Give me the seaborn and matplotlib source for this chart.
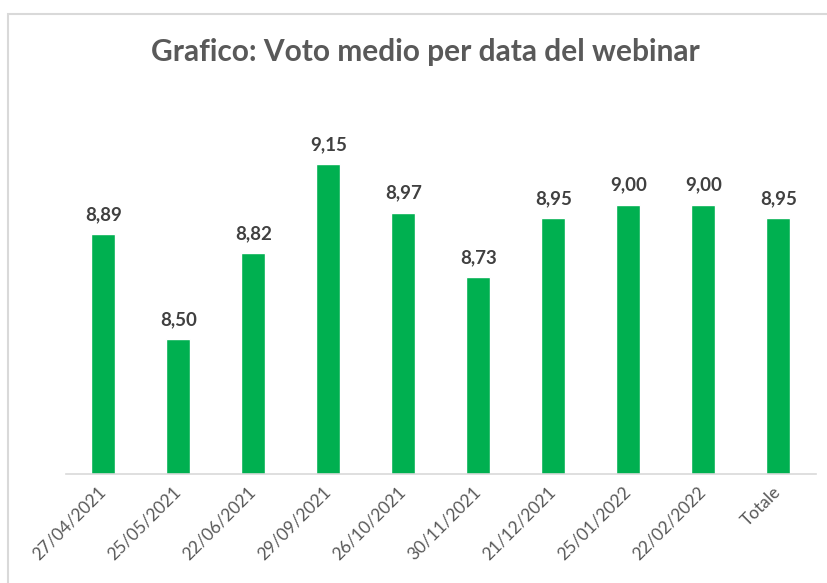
import matplotlib
matplotlib.use('Agg')
import matplotlib.pyplot as plt
import seaborn as sns
import pandas as pd
from matplotlib.patches import Rectangle

# Data
dates = ['27/04/2021', '25/05/2021', '22/06/2021', '29/09/2021', '26/10/2021',
         '30/11/2021', '21/12/2021', '25/01/2022', '22/02/2022', 'Totale']
voto_medio = [8.89, 8.50, 8.82, 9.15, 8.97, 8.73, 8.95, 9.00, 9.00, 8.95]

df = pd.DataFrame({'data': dates, 'voto': voto_medio})

sns.set_style('white')
plt.rcParams['font.family'] = ['Lato', 'DejaVu Sans']

fig = plt.figure(figsize=(8.28, 5.83), dpi=100)
ax = fig.add_axes([66 / 828, 1 - 474 / 583, 750 / 828, 377 / 583])

sns.barplot(data=df, x='data', y='voto', color='#00B050', saturation=1,
            width=0.32, ax=ax)

ax.set_ylim(8.0, 9.4)
ax.set_xlim(-0.5, len(dates) - 0.5)

# value labels with comma decimal
labels = [f"{v:.2f}".replace('.', ',') for v in voto_medio]
ax.bar_label(ax.containers[0], labels=labels, padding=8, fontsize=13.5,
             fontweight='bold', color='#404040')

# axis styling
for s in ['top', 'right', 'left']:
    ax.spines[s].set_visible(False)
ax.spines['bottom'].set_color('#d9d9d9')
ax.spines['bottom'].set_linewidth(1.2)
ax.set_yticks([])
ax.set_xlabel('')
ax.set_ylabel('')
ax.tick_params(axis='x', length=0, pad=11, labelsize=12.5, labelcolor='#595959')
plt.setp(ax.get_xticklabels(), rotation=45, ha='right', va='center',
         rotation_mode='anchor')

fig.suptitle('Grafico: Voto medio per data del webinar', x=425 / 828, y=1 - 52 / 583,
             va='center', fontsize=21.5, fontweight='bold', color='#595959')

# chart frame (cropped on right and bottom)
fig.patches.append(Rectangle((8 / 828, -0.05), 1.0, 1 - 14 / 583 + 0.05,
                             transform=fig.transFigure, fill=False,
                             edgecolor='#d9d9d9', linewidth=1.5))

fig.savefig('out.png', dpi=100)
